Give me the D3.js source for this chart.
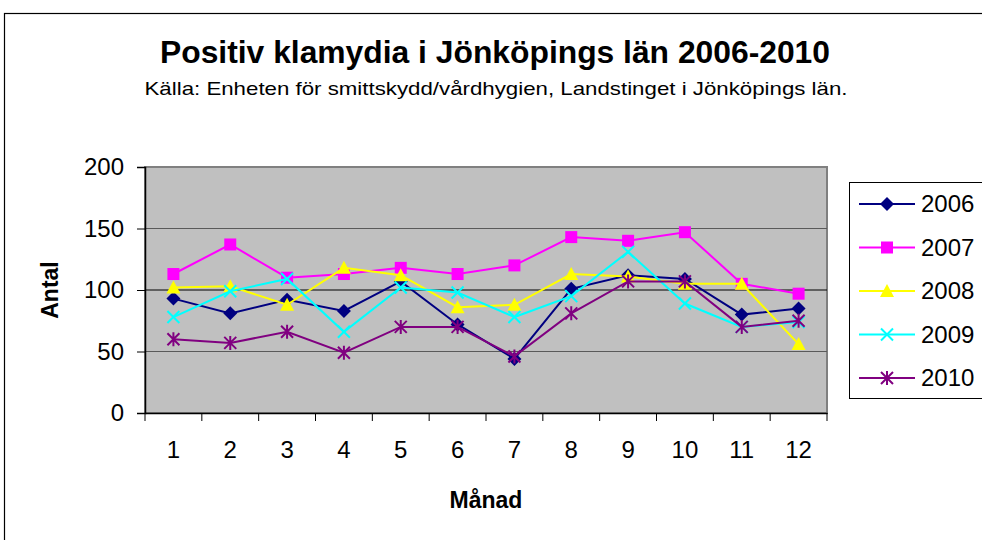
<!DOCTYPE html>
<html>
<head>
<meta charset="utf-8">
<script src="https://cdn.jsdelivr.net/npm/d3@7"></script>
<style>
  body { margin: 0; background: #fff; }
  svg { display: block; font-family: "Liberation Sans", Arial, sans-serif; }
</style>
</head>
<body>
<svg id="chart" width="982" height="540"></svg>
<script>
var months = [1, 2, 3, 4, 5, 6, 7, 8, 9, 10, 11, 12];
var years = ["2006", "2007", "2008", "2009", "2010"];
var yTicks = [0, 50, 100, 150, 200];

var v2006 = [93, 81, 92, 83, 107, 72, 44, 101, 112, 109, 80, 85];
var v2007 = [113, 137, 110, 113, 118, 113, 120, 143, 140, 147, 105, 97];
var v2008 = [102, 103, 88, 118, 112, 86, 88, 113, 111, 105, 105, 56];
var v2009 = [78, 99, 109, 66, 102, 98, 78, 95, 131, 89, 70, 74];
var v2010 = [60, 57, 66, 49, 70, 70, 46, 81, 107, 107, 70, 75];

var colors = ["#000080", "#ff00ff", "#ffff00", "#00ffff", "#800080"];
var shapes = ["diamond", "square", "triangle", "cross", "star"];

var series = [v2006, v2007, v2008, v2009, v2010].map(function(vals, i) {
    return {
        name: years[i],
        color: colors[i],
        shape: shapes[i],
        values: vals.map(function(v, j) { return {m: months[j], v: v}; })
    };
});

var svg = d3.select("#chart"),
    margin = {top: 167, right: 155, bottom: 127, left: 145},
    width = +svg.attr("width") - margin.left - margin.right,
    height = +svg.attr("height") - margin.top - margin.bottom;

// outer chart border
svg.append("rect")
    .attr("x", 4.5).attr("y", 13.5)
    .attr("width", 1000).attr("height", 600)
    .attr("fill", "#fff").attr("stroke", "#000").attr("stroke-width", 1.2);

svg.append("text")
    .attr("x", 495).attr("y", 63)
    .attr("text-anchor", "middle")
    .attr("font-size", 31).attr("font-weight", "bold")
    .attr("textLength", 670).attr("lengthAdjust", "spacingAndGlyphs")
    .text("Positiv klamydia i Jönköpings län 2006-2010");

svg.append("text")
    .attr("x", 496).attr("y", 95)
    .attr("text-anchor", "middle")
    .attr("font-size", 19)
    .attr("textLength", 703).attr("lengthAdjust", "spacingAndGlyphs")
    .text("Källa: Enheten för smittskydd/vårdhygien, Landstinget i Jönköpings län.");

var x = d3.scaleBand().domain(months).range([0, width]);
var y = d3.scaleLinear().domain([0, 200]).range([height, 0]);

var g = svg.append("g")
    .attr("transform", "translate(" + margin.left + "," + margin.top + ")");

g.append("rect")
    .attr("width", width).attr("height", height)
    .attr("fill", "#c0c0c0")
    .attr("stroke", "#808080").attr("stroke-width", 2);

g.selectAll(".grid")
    .data(yTicks.filter(function(d) { return d > 0 && d < 200; }))
    .enter().append("line")
    .attr("class", "grid")
    .attr("x1", 0).attr("x2", width)
    .attr("y1", function(d) { return y(d); })
    .attr("y2", function(d) { return y(d); })
    .attr("stroke", function(d) { return d == 100 ? "#000" : "#5a5a5a"; })
    .attr("stroke-width", 1);

var yAxis = g.append("g")
    .call(d3.axisLeft(y).tickValues(yTicks).tickSize(8).tickPadding(13));
yAxis.select(".domain").attr("stroke", "#000").attr("stroke-width", 1.5);
yAxis.selectAll(".tick line").attr("stroke", "#000");
yAxis.selectAll("text").attr("font-size", 24).attr("font-family", "Liberation Sans, Arial, sans-serif").attr("fill", "#000");

var xAxis = g.append("g")
    .attr("transform", "translate(0," + height + ")")
    .call(d3.axisBottom(x).tickSize(0).tickPadding(28));
xAxis.select(".domain").attr("stroke", "#000").attr("stroke-width", 1.5);
xAxis.selectAll("text").attr("font-size", 24).attr("font-family", "Liberation Sans, Arial, sans-serif").attr("fill", "#000");

// tick marks between categories
g.selectAll(".xtick")
    .data(d3.range(months.length + 1))
    .enter().append("line")
    .attr("class", "xtick")
    .attr("x1", function(i) { return i * x.step(); })
    .attr("x2", function(i) { return i * x.step(); })
    .attr("y1", height).attr("y2", height + 8)
    .attr("stroke", "#000");

svg.append("text")
    .attr("transform", "translate(58," + (margin.top + height / 2) + ") rotate(-90)")
    .attr("text-anchor", "middle")
    .attr("font-size", 23).attr("font-weight", "bold")
    .text("Antal");

svg.append("text")
    .attr("x", margin.left + width / 2).attr("y", 508)
    .attr("text-anchor", "middle")
    .attr("font-size", 23).attr("font-weight", "bold")
    .text("Månad");

function drawMarker(sel, d, color) {
    var s = 6;
    if (d.shape == "diamond") {
        sel.append("path").attr("d", "M0,-7L7,0L0,7L-7,0Z").attr("fill", color);
    } else if (d.shape == "square") {
        sel.append("rect").attr("x", -s).attr("y", -s).attr("width", 2 * s).attr("height", 2 * s).attr("fill", color);
    } else if (d.shape == "triangle") {
        sel.append("path").attr("d", "M0,-7L7,6L-7,6Z").attr("fill", color);
    } else if (d.shape == "cross") {
        sel.append("path").attr("d", "M-6,-6L6,6M-6,6L6,-6").attr("stroke", color).attr("stroke-width", 2);
    } else {
        sel.append("path").attr("d", "M-6,-6L6,6M-6,6L6,-6M0,-7L0,7").attr("stroke", color).attr("stroke-width", 2);
    }
}

var line = d3.line()
    .x(function(d) { return x(d.m) + x.bandwidth() / 2; })
    .y(function(d) { return y(d.v); });

series.forEach(function(s) {
    g.append("path")
        .datum(s.values)
        .attr("fill", "none")
        .attr("stroke", s.color)
        .attr("stroke-width", 2)
        .attr("d", line);
    s.values.forEach(function(p) {
        var m = g.append("g")
            .attr("transform", "translate(" + (x(p.m) + x.bandwidth() / 2) + "," + y(p.v) + ")");
        drawMarker(m, s, s.color);
    });
});

// legend
var legend = svg.append("g").attr("transform", "translate(849,182)");
legend.append("rect")
    .attr("x", 0.5).attr("y", 0.5)
    .attr("width", 200).attr("height", 216)
    .attr("fill", "#fff").attr("stroke", "#000");

var items = legend.selectAll(".item")
    .data(series)
    .enter().append("g")
    .attr("class", "item")
    .attr("transform", function(d, i) { return "translate(0," + (22 + i * 43.5) + ")"; });

items.append("line")
    .attr("x1", 10).attr("x2", 66)
    .attr("stroke", function(d) { return d.color; })
    .attr("stroke-width", 2);
items.each(function(d) {
    var m = d3.select(this).append("g").attr("transform", "translate(38,0)");
    drawMarker(m, d, d.color);
});
items.append("text")
    .attr("x", 72).attr("y", 8)
    .attr("font-size", 24)
    .text(function(d) { return d.name; });
</script>
</body>
</html>
